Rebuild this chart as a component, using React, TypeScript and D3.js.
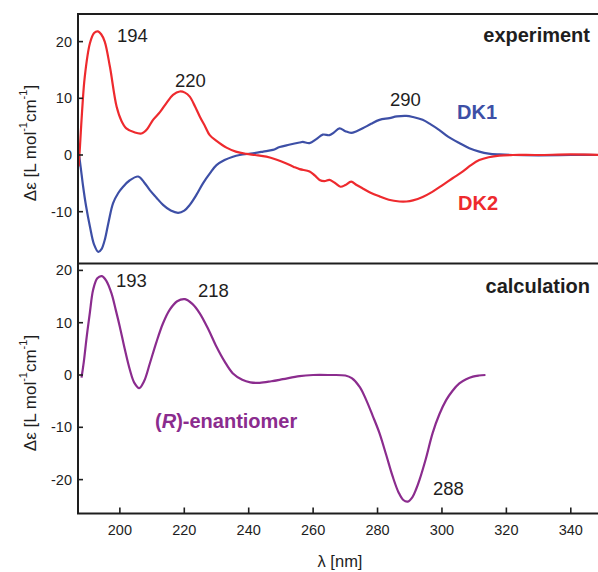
import React from "react";
import * as d3 from "d3";

// ---- data ----
const dk2Nm = [187.2,187.6,188.3,189.1,190.7,192,193.2,194.2,195.3,196.9,199,200.5,202,204.5,206.7,208.5,210.3,212.5,214.5,216.5,218.6,220.2,221.7,223.3,224.8,226.5,227.9,230,233.1,236,239.3,242,245.5,248.5,251.7,254,255.8,258.9,260.5,262,263.5,265.1,266.7,268.5,270,271.8,273.5,275.4,278,280.6,283.5,286.8,289,291,294,297,300.2,303.3,306.5,309,311.6,314.5,317.8,322,330,340,350];
const dk2Val = [-2,1.4,8,13.8,19.7,21.5,21.8,21.3,20,15.6,8.5,6,4.7,4,3.8,4.6,6.2,7.6,9.2,10.6,11.2,11.0,10.3,8.6,6.8,5,3.5,2.5,1.3,0.6,0.2,0,-0.3,-0.8,-1.5,-2.1,-2.5,-2.9,-3.6,-4.4,-4.6,-4.4,-4.9,-5.6,-5.3,-4.7,-5.3,-5.9,-6.7,-7.3,-7.9,-8.2,-8.2,-8.0,-7.4,-6.5,-5.3,-4.1,-2.9,-1.8,-0.9,-0.4,-0.1,0,0,0.1,0];

const dk1Nm = [187.2,187.8,188.6,189.5,190.7,192,193.3,194.3,195.3,196.5,197.9,199.5,201,203,205.7,207.5,209.3,211.3,213.4,215.8,218.1,220,221.7,223.8,225.8,228,230,232.5,235.1,237.2,241.3,244.5,247.5,249.6,252.5,255.8,256.8,258.9,261,263,265.1,266.5,268.2,270,271.8,273.5,275.4,278,280.6,283.7,286,288.9,291,294,296.5,299.2,302,305.4,308.5,311.6,314.5,317.8,322,330,340,350];
const dk1Val = [0.5,-2,-5.6,-9,-12.6,-15.8,-17.1,-16.6,-15,-11.8,-8.5,-6.7,-5.6,-4.5,-3.8,-4.8,-6.2,-7.5,-8.8,-9.8,-10.2,-9.8,-8.8,-7,-5,-3.2,-1.8,-0.9,-0.3,0,0.3,0.6,0.9,1.4,1.8,2.2,2.3,2.1,2.8,3.6,3.5,4.0,4.7,4.2,3.9,4.2,4.7,5.5,6.2,6.5,6.8,6.9,6.7,6.2,5.4,4.4,3.2,2.1,1.2,0.6,0.25,0.1,0,-0.05,0,0];

const calcNm = [188.1,188.8,189.7,190.7,191.7,193,194.4,195.8,197.4,198.7,200,201.5,203.1,204.5,206,207.5,209.3,211.3,213.4,215.5,217.8,220.2,222.5,224.8,227.5,230,232.5,235.1,238,240.5,243.4,247,250.6,255.8,260,265,270,272,274.5,276.5,278.5,280.6,282.7,284.7,286.5,288,289.4,290.8,292,293,295,297.1,299.2,301.3,303.3,305.4,307.5,309.6,311.5,313.5];
const calcVal = [-0.5,2.5,7.3,12,16.3,18.5,18.9,18,15.6,12.5,9.2,5,1,-1.5,-2.5,-1.2,2.2,6.2,9.9,12.5,14.1,14.5,13.6,11.8,8.7,5.4,2.6,0.3,-0.9,-1.4,-1.5,-1.2,-0.8,-0.2,0,0,-0.1,-0.6,-2.3,-4.8,-7.8,-11.1,-15.3,-19.4,-22.4,-23.9,-24.2,-23.4,-21.8,-20.1,-16,-11.1,-7.5,-4.8,-3,-1.6,-0.8,-0.3,-0.1,0];

const xTicks = [200, 220, 240, 260, 280, 300, 320, 340];
const topYTicks = [-10, 0, 10, 20];
const botYTicks = [-20, -10, 0, 10, 20];

const RED = "#ee2a2e";
const BLUE = "#3d4fa6";
const PURPLE = "#8b2c8e";
const INK = "#1e1e1e";
const FONT = "'Liberation Sans', Arial, Helvetica, sans-serif";

const L = 78, R = 603, T1 = 14, B1 = 263.5, T2 = 263.5, B2 = 513.5;

export default function App() {
  const x = d3.scaleLinear().domain([187, 350]).range([L, R]);
  const yTop = d3.scaleLinear().domain([-19.14, 24.87]).range([B1, T1]);
  const yBot = d3.scaleLinear().domain([-26.48, 21.32]).range([B2, T2]);

  const mk = (nm: number[], v: number[], y: d3.ScaleLinear<number, number>) =>
    d3.line<number>().x((_, i) => x(nm[i])).y((d) => y(d)).curve(d3.curveCatmullRom.alpha(0.5))(v) || "";

  const yTitle = (cy: number) => (
    <text transform={`translate(30,${cy}) rotate(-90)`} textAnchor="middle" dominantBaseline="central" fontSize={17} fill={INK} fontFamily={FONT}>
      Δε [L mol<tspan dy={-7} fontSize={11}>-1</tspan><tspan dy={7}>cm</tspan><tspan dy={-7} fontSize={11}>-1</tspan><tspan dy={7}>]</tspan>
    </text>
  );

  const numStyle = { fontSize: 18.5, fill: INK, fontFamily: FONT } as const;
  const boldStyle = { fontSize: 20, fontWeight: 700, fontFamily: FONT } as const;

  return (
    <svg width={598} height={572} style={{ position: "absolute", left: 0, top: 0, background: "#fff" }}>
      <defs>
        <clipPath id="c1"><rect x={L} y={T1} width={R - L} height={B1 - T1} /></clipPath>
        <clipPath id="c2"><rect x={L} y={T2} width={R - L} height={B2 - T2} /></clipPath>
      </defs>
      <rect width={598} height={572} fill="#fff" />

      {/* curves */}
      <g clipPath="url(#c1)">
        <path d={mk(dk1Nm, dk1Val, yTop)} fill="none" stroke={BLUE} strokeWidth={2.2} />
        <path d={mk(dk2Nm, dk2Val, yTop)} fill="none" stroke={RED} strokeWidth={2.2} />
      </g>
      <g clipPath="url(#c2)">
        <path d={mk(calcNm, calcVal, yBot)} fill="none" stroke={PURPLE} strokeWidth={2.2} />
      </g>

      {/* frames */}
      <rect x={L} y={T1} width={R - L} height={B2 - T1} fill="none" stroke={INK} strokeWidth={2} />
      <line x1={L} x2={R} y1={B1} y2={B1} stroke={INK} strokeWidth={2} />

      {/* y ticks */}
      {topYTicks.map((t) => (
        <g key={"t" + t}>
          <line x1={L - 1} x2={L + 5} y1={yTop(t)} y2={yTop(t)} stroke={INK} strokeWidth={1.6} />
          <text x={72} y={yTop(t)} textAnchor="end" dominantBaseline="central" fontSize={14.5} fill={INK} fontFamily={FONT}>{t}</text>
        </g>
      ))}
      {botYTicks.map((t) => (
        <g key={"b" + t}>
          <line x1={L - 1} x2={L + 5} y1={yBot(t)} y2={yBot(t)} stroke={INK} strokeWidth={1.6} />
          <text x={72} y={yBot(t)} textAnchor="end" dominantBaseline="central" fontSize={14.5} fill={INK} fontFamily={FONT}>{t}</text>
        </g>
      ))}
      {/* x ticks */}
      {xTicks.map((t) => (
        <g key={"x" + t}>
          <line x1={x(t)} x2={x(t)} y1={B2} y2={B2 - 6} stroke={INK} strokeWidth={1.6} />
          <text x={x(t)} y={535} textAnchor="middle" fontSize={14.5} fill={INK} fontFamily={FONT}>{t}</text>
        </g>
      ))}

      {/* axis titles */}
      {yTitle(143)}
      {yTitle(393)}
      <text x={340} y={567} textAnchor="middle" fontSize={16.5} fill={INK} fontFamily={FONT}>λ [nm]</text>

      {/* annotations */}
      <text x={117} y={42} {...numStyle}>194</text>
      <text x={175} y={87} {...numStyle}>220</text>
      <text x={390} y={106} {...numStyle}>290</text>
      <text x={457} y={119} {...boldStyle} fill={BLUE}>DK1</text>
      <text x={458} y={210} {...boldStyle} fill={RED}>DK2</text>
      <text x={590} y={42} textAnchor="end" {...boldStyle} fill={INK}>experiment</text>
      <text x={590} y={293} textAnchor="end" {...boldStyle} fill={INK}>calculation</text>
      <text x={116} y={287} {...numStyle}>193</text>
      <text x={198} y={297} {...numStyle}>218</text>
      <text x={433} y={495} {...numStyle}>288</text>
      <text x={155} y={428} {...boldStyle} fill={PURPLE}>(<tspan fontStyle="italic">R</tspan>)-enantiomer</text>
    </svg>
  );
}
